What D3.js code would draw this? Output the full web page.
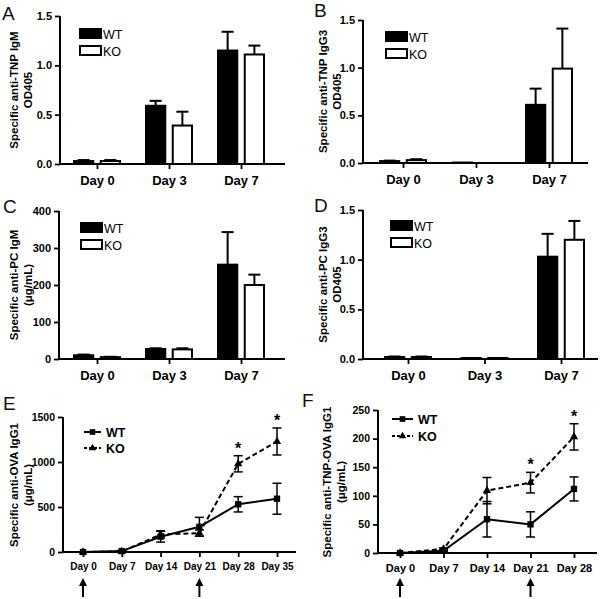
<!DOCTYPE html>
<html>
<head>
<meta charset="utf-8">
<script src="https://cdn.jsdelivr.net/npm/d3@7"></script>
<style>
  body { margin: 0; background: #fff; }
  svg { display: block; }
</style>
</head>
<body>
<svg id="fig" width="600" height="599"></svg>
<script>
// Data
const barDays = ["Day 0", "Day 3", "Day 7"];
const groups  = ["WT", "KO"];

// A: anti-TNP IgM (OD405)
const tnpIgmWT    = [0.03, 0.59, 1.15];
const tnpIgmWTErr = [0.01, 0.05, 0.19];
const tnpIgmKO    = [0.03, 0.39, 1.11];
const tnpIgmKOErr = [0.01, 0.14, 0.09];

// B: anti-TNP IgG3 (OD405)
const tnpIgg3WT    = [0.02, 0.005, 0.61];
const tnpIgg3WTErr = [0.005, 0, 0.17];
const tnpIgg3KO    = [0.03, 0, 0.99];
const tnpIgg3KOErr = [0.01, 0, 0.42];

// C: anti-PC IgM (ug/mL)
const pcIgmWT    = [10, 27, 255];
const pcIgmWTErr = [2, 2, 88];
const pcIgmKO    = [5, 26, 200];
const pcIgmKOErr = [1, 3, 28];

// D: anti-PC IgG3 (OD405)
const pcIgg3WT    = [0.02, 0.01, 1.03];
const pcIgg3WTErr = [0.005, 0, 0.23];
const pcIgg3KO    = [0.02, 0.01, 1.20];
const pcIgg3KOErr = [0.005, 0, 0.19];

// E: anti-OVA IgG1 (ug/mL)
const ovaDays  = [0, 7, 14, 21, 28, 35];
const ovaWT    = [0, 10, 170, 280, 530, 592];
const ovaWTErr = [0, 8, 60, 105, 85, 172];
const ovaKO    = [0, 5, 195, 210, 980, 1228];
const ovaKOErr = [0, 5, 40, 35, 90, 150];
const ovaStars = [28, 35];
const ovaBoost = [0, 21];

// F: anti-TNP-OVA IgG1 (ug/mL)
const tnpOvaDays  = [0, 7, 14, 21, 28];
const tnpOvaWT    = [0, 4, 59, 50, 112];
const tnpOvaWTErr = [0, 2, 31, 22, 21];
const tnpOvaKO    = [0, 7, 109, 123, 203];
const tnpOvaKOErr = [0, 2, 23, 18, 23];
const tnpOvaStars = [21, 28];
const tnpOvaBoost = [0, 21];

// Setup
const FONT = "Arial, 'Liberation Sans', Helvetica, sans-serif";
const svg = d3.select("#fig");
svg.append("rect").attr("width", 600).attr("height", 599).attr("fill", "#fff");

function styleAxis(g, size) {
  g.select(".domain").remove();
  g.selectAll(".tick line").attr("stroke", "#000").attr("stroke-width", 1.8);
  g.selectAll(".tick text")
    .attr("fill", "#000")
    .attr("font-family", FONT)
    .attr("font-weight", "bold")
    .attr("font-size", size + "px");
}

function panelLetter(letter, x, y) {
  svg.append("text").attr("x", x).attr("y", y)
    .attr("font-family", FONT).attr("font-size", "19px")
    .attr("fill", "#111").text(letter);
}

function yTitle(lines, xs, cy) {
  lines.forEach((t, i) => {
    svg.append("text")
      .attr("transform", `translate(${xs[i]},${cy}) rotate(-90)`)
      .attr("text-anchor", "middle")
      .attr("font-family", FONT).attr("font-weight", "bold")
      .attr("font-size", "11.5px").attr("fill", "#000")
      .text(t);
  });
}

function axisLines(x0, xEnd, yTop, y0) {
  svg.append("line").attr("x1", x0).attr("x2", x0).attr("y1", yTop).attr("y2", y0)
    .attr("stroke", "#000").attr("stroke-width", 2);
  svg.append("line").attr("x1", x0 - 1).attr("x2", xEnd).attr("y1", y0).attr("y2", y0)
    .attr("stroke", "#000").attr("stroke-width", 2);
}

// Bar panel
function barPanel(p) {
  const y = d3.scaleLinear().domain([0, p.yMax]).range([p.y0, p.yTop]);
  const x = d3.scalePoint().domain(barDays).range(p.centers);
  const sub = d3.scaleBand().domain(groups).range([-23, 23]).paddingInner(0.28);
  const series = { WT: [p.wt, p.wtErr], KO: [p.ko, p.koErr] };

  const g = svg.append("g");
  groups.forEach(k => {
    const [vals, errs] = series[k];
    // error bars (upward only)
    g.selectAll(null).data(vals).join("g").each(function(v, i) {
      if (!errs[i]) return;
      const cx = x(barDays[i]) + sub(k) + sub.bandwidth() / 2;
      const e = d3.select(this);
      e.append("line").attr("x1", cx).attr("x2", cx)
        .attr("y1", y(v)).attr("y2", y(v + errs[i]))
        .attr("stroke", "#000").attr("stroke-width", 2);
      e.append("line").attr("x1", cx - 6).attr("x2", cx + 6)
        .attr("y1", y(v + errs[i])).attr("y2", y(v + errs[i]))
        .attr("stroke", "#000").attr("stroke-width", 2);
    });
    g.selectAll(null).data(vals).join("rect")
      .attr("x", (d, i) => x(barDays[i]) + sub(k))
      .attr("width", sub.bandwidth())
      .attr("y", d => y(d))
      .attr("height", d => p.y0 - y(d))
      .attr("fill", k === "WT" ? "#000" : "#fff")
      .attr("stroke", "#000").attr("stroke-width", 2);
  });

  axisLines(p.x0, p.xEnd, p.yTop, p.y0);

  svg.append("g").attr("transform", `translate(${p.x0},0)`)
    .call(d3.axisLeft(y).tickValues(p.ticks).tickFormat(p.fmt).tickSize(5).tickPadding(3))
    .call(g => styleAxis(g, 11));

  svg.append("g").attr("transform", `translate(0,${p.y0})`)
    .call(d3.axisBottom(x).tickSize(5).tickPadding(7))
    .call(g => styleAxis(g, 13));

  // legend
  groups.forEach((k, i) => {
    const ly = p.legend[1] + i * 17;
    svg.append("rect").attr("x", p.legend[0]).attr("y", ly)
      .attr("width", 21).attr("height", 9)
      .attr("fill", k === "WT" ? "#000" : "#fff")
      .attr("stroke", "#000").attr("stroke-width", 2);
    svg.append("text").attr("x", p.legend[0] + 23).attr("y", ly + 9.5)
      .attr("font-family", FONT).attr("font-size", "12.5px").attr("fill", "#000")
      .text(k);
  });

  yTitle(p.title, p.titleX, (p.yTop + p.y0) / 2);
  panelLetter(p.letter, p.letterPos[0], p.letterPos[1]);
}

// Line panel
function linePanel(p) {
  const y = d3.scaleLinear().domain([0, p.yMax]).range([p.y0, p.yTop]);
  const x = d3.scaleLinear().domain([0, d3.max(p.days)]).range(p.xRange);

  axisLines(p.x0, p.xEnd, p.yTop, p.y0);

  svg.append("g").attr("transform", `translate(${p.x0},0)`)
    .call(d3.axisLeft(y).tickValues(p.ticks).tickFormat(d3.format("d")).tickSize(5).tickPadding(3))
    .call(g => styleAxis(g, 10.5));

  svg.append("g").attr("transform", `translate(0,${p.y0})`)
    .call(d3.axisBottom(x).tickValues(p.days).tickFormat(d => "Day " + d)
      .tickSize(5).tickPadding(6))
    .call(g => styleAxis(g, p.dayFont));

  const line = d3.line().x((d, i) => x(p.days[i])).y(d => y(d));
  const series = [
    { key: "WT", v: p.wt, e: p.wtErr, dash: null, sym: d3.symbolSquare, size: 40 },
    { key: "KO", v: p.ko, e: p.koErr, dash: "5 3", sym: d3.symbolTriangle, size: 30 }
  ];

  series.forEach(s => {
    const g = svg.append("g");
    s.v.forEach((v, i) => {
      if (!s.e[i]) return;
      const cx = x(p.days[i]);
      const lo = y(v - s.e[i]), hi = y(v + s.e[i]);
      g.append("line").attr("x1", cx).attr("x2", cx).attr("y1", lo).attr("y2", hi)
        .attr("stroke", "#000").attr("stroke-width", 1.5);
      [lo, hi].forEach(yy => g.append("line")
        .attr("x1", cx - 4.5).attr("x2", cx + 4.5).attr("y1", yy).attr("y2", yy)
        .attr("stroke", "#000").attr("stroke-width", 1.5));
    });
    g.append("path").attr("d", line(s.v)).attr("fill", "none")
      .attr("stroke", "#000").attr("stroke-width", 2)
      .attr("stroke-dasharray", s.dash);
    g.selectAll(null).data(s.v).join("path")
      .attr("transform", (d, i) => `translate(${x(p.days[i])},${y(d)})`)
      .attr("d", d3.symbol(s.sym, s.size))
      .attr("fill", "#000");
  });

  // significance stars
  p.stars.forEach(day => {
    const i = p.days.indexOf(day);
    const top = Math.max(p.wt[i] + p.wtErr[i], p.ko[i] + p.koErr[i]);
    svg.append("text").attr("x", x(day)).attr("y", y(top) - 2)
      .attr("text-anchor", "middle")
      .attr("font-family", FONT).attr("font-weight", "bold")
      .attr("font-size", "16px").text("*");
  });

  // immunization arrows
  p.boost.forEach(day => {
    const cx = x(day);
    svg.append("line").attr("x1", cx).attr("x2", cx).attr("y1", 584).attr("y2", 597)
      .attr("stroke", "#000").attr("stroke-width", 2);
    svg.append("path")
      .attr("d", `M${cx},578 L${cx - 4},586 L${cx + 4},586 Z`)
      .attr("fill", "#000");
  });

  // legend
  series.forEach((s, i) => {
    const ly = p.legend[1] + i * p.legendGap;
    const lx = p.legend[0];
    svg.append("line").attr("x1", lx).attr("x2", lx + p.legendLen)
      .attr("y1", ly).attr("y2", ly)
      .attr("stroke", "#000").attr("stroke-width", 2)
      .attr("stroke-dasharray", s.dash ? "3 2" : null);
    svg.append("path")
      .attr("transform", `translate(${lx + p.legendLen / 2},${ly})`)
      .attr("d", d3.symbol(s.sym, s.size * 0.8)).attr("fill", "#000");
    svg.append("text").attr("x", lx + p.legendLen + 5).attr("y", ly + 4.5)
      .attr("font-family", FONT).attr("font-weight", "bold")
      .attr("font-size", "12.5px").text(s.key);
  });

  yTitle(p.title, p.titleX, p.titleY);
  panelLetter(p.letter, p.letterPos[0], p.letterPos[1]);
}

barPanel({
  letter: "A", letterPos: [2, 20],
  x0: 60, xEnd: 285, yTop: 16, y0: 164, yMax: 1.5,
  ticks: [0, 0.5, 1.0, 1.5], fmt: d3.format(".1f"),
  centers: [97, 241],
  wt: tnpIgmWT, wtErr: tnpIgmWTErr, ko: tnpIgmKO, koErr: tnpIgmKOErr,
  legend: [80, 29],
  title: ["Specific anti-TNP IgM", "OD405"], titleX: [18, 32]
});

barPanel({
  letter: "B", letterPos: [314, 17],
  x0: 363, xEnd: 588, yTop: 20, y0: 163, yMax: 1.5,
  ticks: [0, 0.5, 1.0, 1.5], fmt: d3.format(".1f"),
  centers: [403, 549],
  wt: tnpIgg3WT, wtErr: tnpIgg3WTErr, ko: tnpIgg3KO, koErr: tnpIgg3KOErr,
  legend: [386, 32],
  title: ["Specific anti-TNP IgG3", "OD405"], titleX: [327, 341]
});

barPanel({
  letter: "C", letterPos: [3, 213],
  x0: 59, xEnd: 285, yTop: 211, y0: 359, yMax: 400,
  ticks: [0, 100, 200, 300, 400], fmt: d3.format("d"),
  centers: [97, 241],
  wt: pcIgmWT, wtErr: pcIgmWTErr, ko: pcIgmKO, koErr: pcIgmKOErr,
  legend: [81, 223],
  title: ["Specific anti-PC IgM", "(μg/mL)"], titleX: [18, 32]
});

barPanel({
  letter: "D", letterPos: [314, 212],
  x0: 363, xEnd: 598, yTop: 210, y0: 359, yMax: 1.5,
  ticks: [0, 0.5, 1.0, 1.5], fmt: d3.format(".1f"),
  centers: [408, 561],
  wt: pcIgg3WT, wtErr: pcIgg3WTErr, ko: pcIgg3KO, koErr: pcIgg3KOErr,
  legend: [391, 221],
  title: ["Specific anti-PC IgG3", "OD405"], titleX: [327, 341]
});

linePanel({
  letter: "E", letterPos: [3, 410],
  x0: 63, xEnd: 296, yTop: 417, y0: 552, yMax: 1500,
  ticks: [0, 500, 1000, 1500], days: ovaDays, xRange: [83, 277], dayFont: 10,
  wt: ovaWT, wtErr: ovaWTErr, ko: ovaKO, koErr: ovaKOErr,
  stars: ovaStars, boost: ovaBoost,
  legend: [84, 432], legendGap: 16, legendLen: 17,
  title: ["Specific anti-OVA IgG1", "(μg/mL)"], titleX: [18, 32], titleY: 485
});

linePanel({
  letter: "F", letterPos: [302, 407],
  x0: 378, xEnd: 597, yTop: 410, y0: 553, yMax: 250,
  ticks: [0, 50, 100, 150, 200, 250], days: tnpOvaDays, xRange: [400, 574], dayFont: 11,
  wt: tnpOvaWT, wtErr: tnpOvaWTErr, ko: tnpOvaKO, koErr: tnpOvaKOErr,
  stars: tnpOvaStars, boost: tnpOvaBoost,
  legend: [392, 419], legendGap: 17, legendLen: 21,
  title: ["Specific anti-TNP-OVA IgG1", "(μg/mL)"], titleX: [331, 345], titleY: 482
});
</script>
</body>
</html>
